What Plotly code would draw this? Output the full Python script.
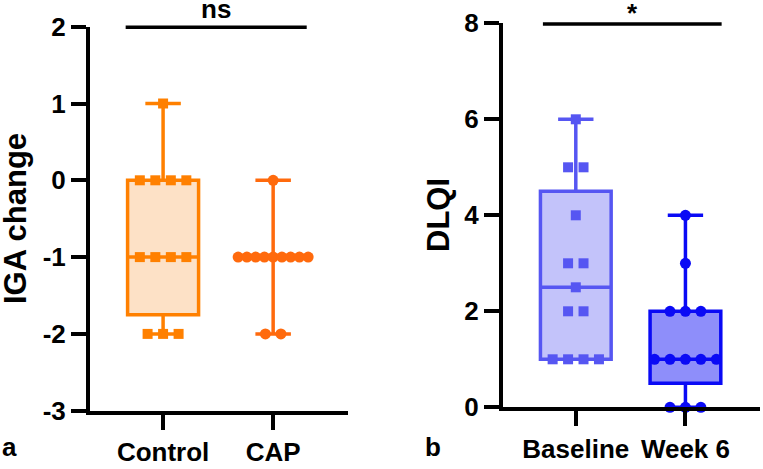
import numpy as np
import plotly.graph_objects as go

# ---------------- data ----------------
iga_categories = ["Control", "CAP"]
iga_control = [1, 0, 0, 0, 0, -1, -1, -1, -1, -2, -2, -2]
iga_cap = [0, -1, -1, -1, -1, -1, -1, -1, -1, -1, -2, -2]
iga_ticks = [-3, -2, -1, 0, 1, 2]
iga_sig = "ns"
iga_sig_level = 2

dlqi_categories = ["Baseline", "Week 6"]
dlqi_baseline = [6, 5, 5, 4, 3, 3, 2.5, 2, 2, 1, 1, 1, 1]
dlqi_week6 = [4, 3, 2, 2, 2, 1, 1, 1, 1, 1, 0, 0, 0]
dlqi_ticks = [0, 2, 4, 6, 8]
dlqi_sig = "*"
dlqi_sig_level = 8

# ---------------- layout constants ----------------
W, H = 763, 469
FONT = "Liberation Sans, Arial, sans-serif"
XR = [-0.664, 1.68]
XD1 = [90 / W, 348 / W]
XD2 = [503 / W, 760 / W]
YD1 = [1 - 410.7 / H, 1 - 26.7 / H]
YD2 = [1 - 407.3 / H, 1 - 23.3 / H]
YR1 = [-3, 2]
YR2 = [0, 8]
PX_PER_UNIT = (XD1[1] - XD1[0]) * W / (XR[1] - XR[0])

groups = [
    dict(vals=iga_control, cat=0, ax="1", line="#FF8000", fill="#FDE1C6",
         mcol="#FF8000", sym="square"),
    dict(vals=iga_cap, cat=1, ax="1", line="#FF6A0D", fill="rgba(0,0,0,0)",
         mcol="#FF6A0D", sym="circle"),
    dict(vals=dlqi_baseline, cat=0, ax="2", line="#5656F2", fill="#C3C3FA",
         mcol="#5656F2", sym="square"),
    dict(vals=dlqi_week6, cat=1, ax="2", line="#0A0AF5", fill="#8E8EFA",
         mcol="#0A0AF5", sym="circle"),
]

fig = go.Figure()


def quart(v, p):
    return float(np.percentile(v, p, method="weibull"))


for g in groups:
    v = np.array(g["vals"], dtype=float)
    xa = "x" if g["ax"] == "1" else "x2"
    ya = "y" if g["ax"] == "1" else "y2"
    fig.add_trace(go.Box(
        x=[g["cat"]], q1=[quart(v, 25)], median=[quart(v, 50)], q3=[quart(v, 75)],
        lowerfence=[v.min()], upperfence=[v.max()],
        width=0.645, whiskerwidth=0.5,
        line=dict(color=g["line"], width=3.5), fillcolor=g["fill"],
        boxpoints=False, hoverinfo="skip", showlegend=False,
        xaxis=xa, yaxis=ya,
    ))
    # arrange points with equal values in a centred row
    xs, ys = [], []
    for val in sorted(set(v.tolist()), reverse=True):
        k = int((v == val).sum())
        sp_px = min(15.5, 70.0 / (k - 1)) if k > 1 else 0
        sp = sp_px / PX_PER_UNIT
        for i in range(k):
            xs.append(g["cat"] + (i - (k - 1) / 2) * sp)
            ys.append(val)
    fig.add_trace(go.Scatter(
        x=xs, y=ys, mode="markers",
        marker=dict(symbol=g["sym"], size=11 if g["sym"] == "circle" else 10,
                    color=g["mcol"], line=dict(width=0)),
        cliponaxis=False, hoverinfo="skip", showlegend=False,
        xaxis=xa, yaxis=ya,
    ))


def to_paper(val, rng, dom):
    return dom[0] + (val - rng[0]) / (rng[1] - rng[0]) * (dom[1] - dom[0])


# significance bars
for xref, lvl, rng, dom, txt, x0, x1, yshift in [
    ("x", iga_sig_level, YR1, YD1, iga_sig, -0.34, 1.305, 1),
    ("x2", dlqi_sig_level, YR2, YD2, dlqi_sig, -0.3, 1.33, -6),
]:
    yp = to_paper(lvl, rng, dom) - 0.6 / H
    fig.add_shape(type="line", xref=xref, yref="paper", x0=x0, x1=x1, y0=yp, y1=yp,
                  line=dict(color="black", width=3.5))
    fig.add_annotation(xref=xref, yref="paper", x=(x0 + x1) / 2, y=yp, text="<b>%s</b>" % txt,
                       showarrow=False, yanchor="bottom", yshift=yshift,
                       font=dict(family=FONT, size=26, color="black"))

axis_common = dict(
    showline=True, linecolor="black", linewidth=4, ticks="outside",
    ticklen=15, tickwidth=4, tickcolor="black", showgrid=False, zeroline=False,
    automargin=False,
    tickfont=dict(family=FONT, size=26, color="black"),
)

fig.update_layout(
    width=W, height=H, margin=dict(l=0, r=0, t=0, b=0, autoexpand=False),
    paper_bgcolor="white", plot_bgcolor="white",
    xaxis=dict(domain=XD1, range=XR, tickvals=[0, 1],
               ticktext=["<b>%s</b>" % c for c in iga_categories],
               anchor="y", **axis_common),
    yaxis=dict(domain=YD1, range=YR1, tickvals=iga_ticks,
               ticktext=["<b>%d</b>" % t for t in iga_ticks],
               anchor="x", **axis_common),
    xaxis2=dict(domain=XD2, range=XR, tickvals=[0, 1],
                ticktext=["<b>%s</b>" % c for c in dlqi_categories],
                anchor="y2", **axis_common),
    yaxis2=dict(domain=YD2, range=YR2, tickvals=dlqi_ticks,
                ticktext=["<b>%d</b>" % t for t in dlqi_ticks],
                anchor="x2", **axis_common),
)

# axis titles and panel labels
fig.add_annotation(xref="paper", yref="paper", x=15 / W, y=1 - 219 / H, text="<b>IGA change</b>",
                   xanchor="center", yanchor="middle",
                   textangle=-90, showarrow=False, font=dict(family=FONT, size=31, color="black"))
fig.add_annotation(xref="paper", yref="paper", x=438 / W, y=1 - 215 / H, text="<b>DLQI</b>",
                   xanchor="center", yanchor="middle",
                   textangle=-90, showarrow=False, font=dict(family=FONT, size=31, color="black"))
fig.add_annotation(xref="paper", yref="paper", x=9 / W, y=1 - 447 / H, text="<b>a</b>",
                   xanchor="center", yanchor="middle",
                   showarrow=False, font=dict(family=FONT, size=26, color="black"))
fig.add_annotation(xref="paper", yref="paper", x=433 / W, y=1 - 447 / H, text="<b>b</b>",
                   xanchor="center", yanchor="middle",
                   showarrow=False, font=dict(family=FONT, size=26, color="black"))

fig.write_html("out.html", config={"displayModeBar": False},
               post_script="document.body.style.margin='0';document.body.style.overflow='hidden';")
